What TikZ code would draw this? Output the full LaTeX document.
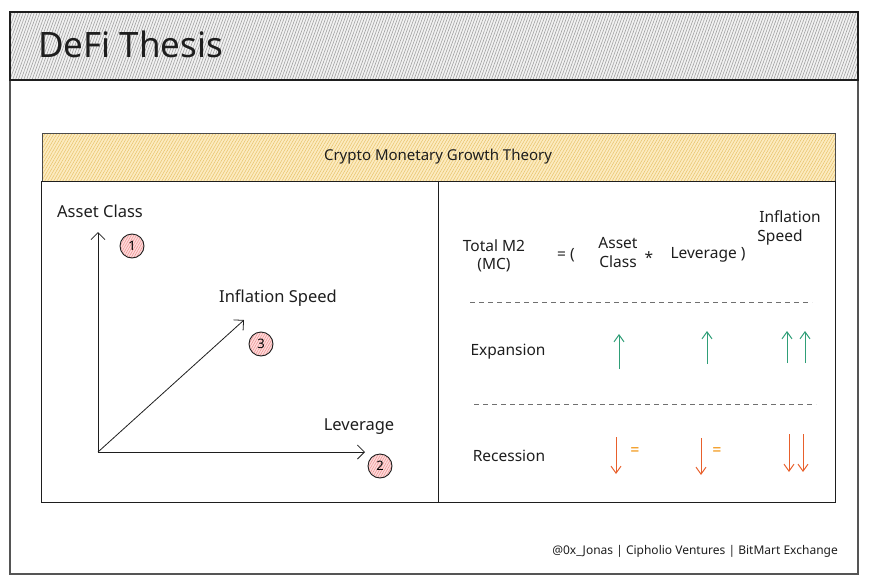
\documentclass[tikz,border=0pt]{standalone}
\usepackage{fontspec}
\setmainfont{Noto Sans}
\usetikzlibrary{patterns.meta,arrows.meta}
\definecolor{ink}{HTML}{1E1E1E}
\definecolor{framegray}{HTML}{555555}
\definecolor{hatchgray}{HTML}{A0A0A0}
\definecolor{headbase}{HTML}{F2F2F2}
\definecolor{barfill}{HTML}{FCEBC0}
\definecolor{barhatch}{HTML}{E8C36A}
\definecolor{pinkfill}{HTML}{FFDADA}
\definecolor{pinkhatch}{HTML}{E88C8C}
\definecolor{upgreen}{HTML}{2F9E77}
\definecolor{downred}{HTML}{E8602C}
\definecolor{eqorange}{HTML}{F08C00}
\definecolor{dashgray}{HTML}{707070}
\tikzset{
  lbl/.style={font=\fontsize{15.5}{18}\selectfont, text=ink, inner sep=0pt},
  big/.style={font=\fontsize{16.5}{19}\selectfont},
  numcirc/.style={circle, draw=ink, line width=0.9pt, minimum size=24pt, inner sep=0pt,
    font=\fontsize{13}{13}\selectfont,
    preaction={fill=pinkfill},
    pattern={Lines[angle=60,distance=2.2pt,line width=0.45pt]}, pattern color=pinkhatch},
  axis/.style={draw=ink, line width=0.8pt, -{Straight Barb[length=7pt,width=14pt,line width=0.8pt]}},
  uparr/.style={draw=upgreen, line width=1pt, -{Straight Barb[length=7pt,width=10pt,line width=1pt]}},
  downarr/.style={draw=downred, line width=1pt, -{Straight Barb[length=7pt,width=10pt,line width=1pt]}},
  eqsign/.style={text=eqorange, inner sep=0pt, font=\bfseries\fontsize{16}{16}\selectfont},
  divider/.style={draw=dashgray, line width=0.9pt, dash pattern=on 5pt off 4pt},
  panel/.style={draw=ink, line width=1pt}
}
\begin{document}
\begin{tikzpicture}[x=1pt,y=-1pt]
\useasboundingbox (0,0) rectangle (869,586);
% outer frame
\draw[framegray, line width=1.2pt] (10,12) rectangle (858,574);
% header band
\path[preaction={fill=headbase}, pattern={Lines[angle=70,distance=2.6pt,line width=0.6pt]}, pattern color=hatchgray]
  (10,12) rectangle (858,80);
\draw[ink, line width=1.5pt] (10,12) rectangle (858,80);
\node[font=\fontsize{35}{37}\selectfont, text=ink, anchor=west, inner sep=0pt] (title) at (38,44) {DeFi Thesis};
% yellow bar
\path[preaction={fill=barfill}, pattern={Lines[angle=60,distance=2.6pt,line width=0.5pt]}, pattern color=barhatch]
  (42,133) rectangle (835,181);
\draw[ink!80, line width=1pt] (42,133) rectangle (835,181);
\node[lbl, font=\fontsize{15}{17}\selectfont] (bartitle) at (438,157) {Crypto Monetary Growth Theory};
% panels
\draw[panel] (41,181) rectangle (438,502);
\draw[panel] (438,181) rectangle (835,502);
% left chart
\coordinate (origin) at (98,452);
\coordinate (ytop) at (98,232);
\coordinate (xend) at (365,452);
\coordinate (dend) at (244,320);
\draw[axis] (origin) -- (ytop);
\draw[axis] (origin) -- (xend);
\draw[axis] (origin) -- (dend);
\node[lbl, big] (asset) at (100,211) {Asset Class};
\node[lbl, big] (infl) at (278,298) {Inflation Speed};
\node[lbl, big] (lev) at (359,427) {Leverage};
\node[numcirc] (c1) at (132,246) {1};
\node[numcirc] (c3) at (261,344) {3};
\node[numcirc] (c2) at (380,466) {2};
% right formula
\node[lbl] (totm2) at (494,246) {Total M2};
\node[lbl] (mc) at (494,265) {(MC)};
\node[lbl] (eqp) at (566,255) {= (};
\node[lbl] (assetw) at (618,243) {Asset};
\node[lbl] (classw) at (618,262) {Class};
\node[lbl] (times) at (649,258) {*};
\node[lbl] (levw) at (708,255) {Leverage )};
\node[lbl] (inflw) at (790,217) {Inflation};
\node[lbl] (speedw) at (780,237) {Speed};
\draw[divider] (470,302) -- (812,302);
\draw[divider] (474,404) -- (816,404);
% expansion row
\node[lbl] (exp) at (508,352) {Expansion};
\coordinate (u1a) at (619,369); \coordinate (u1b) at (619,334);
\coordinate (u2a) at (707,364); \coordinate (u2b) at (707,331);
\coordinate (u3a) at (787,363); \coordinate (u3b) at (787,331);
\coordinate (u4a) at (805,363); \coordinate (u4b) at (805,331);
\draw[uparr] (u1a) -- (u1b);
\draw[uparr] (u2a) -- (u2b);
\draw[uparr] (u3a) -- (u3b);
\draw[uparr] (u4a) -- (u4b);
% recession row
\node[lbl] (rec) at (509,456) {Recession};
\coordinate (d1a) at (616,437); \coordinate (d1b) at (616,474);
\coordinate (d2a) at (701,438); \coordinate (d2b) at (701,475);
\coordinate (d3a) at (789,434); \coordinate (d3b) at (789,472);
\coordinate (d4a) at (803,434); \coordinate (d4b) at (803,472);
\draw[downarr] (d1a) -- (d1b);
\draw[downarr] (d2a) -- (d2b);
\draw[downarr] (d3a) -- (d3b);
\draw[downarr] (d4a) -- (d4b);
\node[eqsign] (eq1) at (635,452) {=};
\node[eqsign] (eq2) at (717,452) {=};
% credits
\node[lbl, font=\fontsize{12}{14}\selectfont, anchor=east] (credit) at (838,551) {@0x\_Jonas | Cipholio Ventures | BitMart Exchange};
\end{tikzpicture}
\end{document}
